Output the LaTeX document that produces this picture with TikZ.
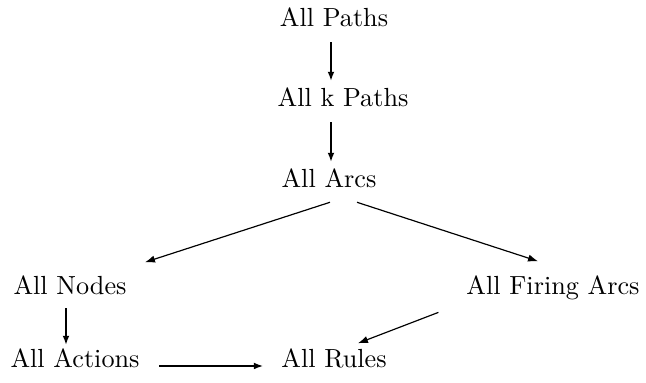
\documentclass[tikz,border=0pt]{standalone}
\usetikzlibrary{arrows.meta}
\begin{document}
\begin{tikzpicture}[x=0.3817pt,y=-0.3817pt,
  lbl/.style={anchor=base,inner sep=0pt,outer sep=0pt},
  heavy/.style={line width=0.8pt,-{Latex[length=3.6pt,width=2.6pt]}},
  light/.style={line width=0.45pt,-{Latex[length=3.8pt,width=2.8pt]}}]
\useasboundingbox (0,0) rectangle (646,383);
% levels of the hierarchy
\node[lbl] (paths)  at (334,27)  {All Paths};
\node[lbl] (kpaths) at (343,107) {All k Paths};
\node[lbl] (arcs)   at (329,188) {All Arcs};
\node[lbl] (nodes)  at (70,295)  {All Nodes};
\node[lbl] (firing) at (553,295) {All Firing Arcs};
\node[lbl] (actions) at (75,368) {All Actions};
\node[lbl] (rules)  at (334,368) {All Rules};
% connectors
\draw[heavy] ([shift={(-3,15)}]paths.south) -- ([shift={(-12,-7)}]kpaths.north);
\draw[heavy] ([shift={(-12,15)}]kpaths.south) -- ([shift={(2,-7)}]arcs.north);
\draw[light] ([shift={(1,14)}]arcs.south) -- ([shift={(75,-14)}]nodes.north);
\draw[light] ([shift={(28,14)}]arcs.south) -- ([shift={(-15,-15)}]firing.north);
\draw[heavy] ([shift={(-4,13)}]nodes.south) -- ([shift={(-9,-4)}]actions.north);
\draw[heavy] ([shift={(20,-2)}]actions.base east) -- ([shift={(-18,-2)}]rules.base west);
\draw[light] ([shift={(-28,12)}]firing.south west) -- ([shift={(24,-6)}]rules.north);
\end{tikzpicture}
\end{document}
